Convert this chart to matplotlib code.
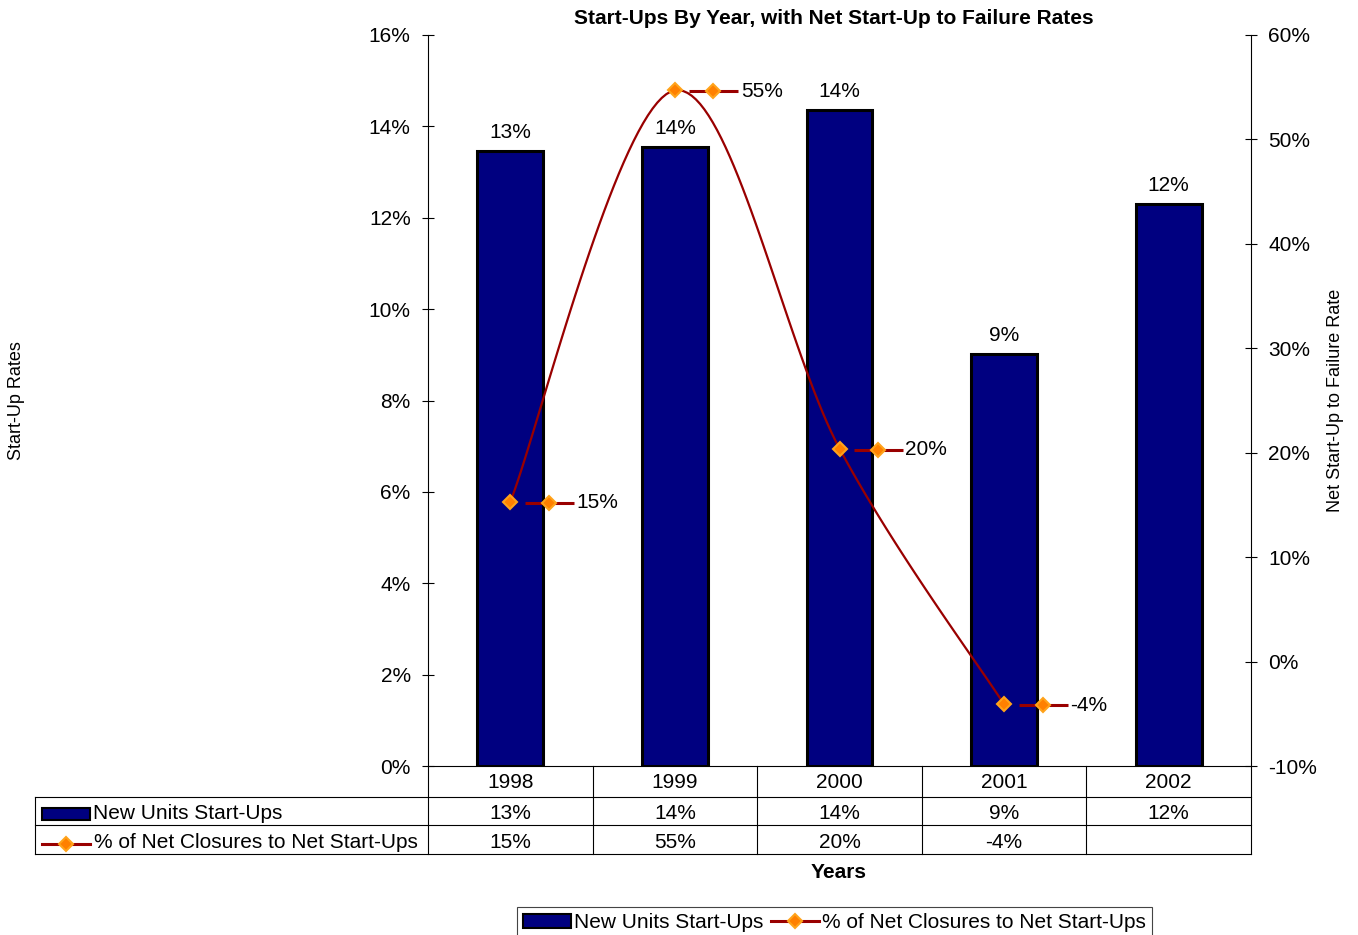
import numpy as np
import matplotlib
matplotlib.use("Agg")
import matplotlib.pyplot as plt
from matplotlib import transforms
from matplotlib.lines import Line2D
from matplotlib.patches import Rectangle, Patch

# ---- data -------------------------------------------------------------
years = ["1998", "1999", "2000", "2001", "2002"]
startup_rates = [13.46, 13.55, 14.36, 9.02, 12.30]        # new units start-up rate, %
net_ratio = [15.3, 54.7, 20.4, -4.1, np.nan]              # net closures to net start-ups, %
left_ticks = [0, 2, 4, 6, 8, 10, 12, 14, 16]
right_ticks = [-10, 0, 10, 20, 30, 40, 50, 60]

bar_name = "New Units Start-Ups"
line_name = "% of Net Closures to Net Start-Ups"
title = "Start-Ups By Year, with Net Start-Up to Failure Rates"

# ---- style ------------------------------------------------------------
NAVY = "#000080"
DARKRED = "#990000"
MFACE = "#FF8000"
MEDGE = "#FFA31A"
MS = 7.2
W, H = 1358, 935
plt.rcParams["font.family"] = ["Liberation Sans", "DejaVu Sans"]
plt.rcParams["font.size"] = 15


def fx(px):
    return px / W


def fy(py):
    return 1 - py / H


def pct(v):
    return "" if np.isnan(v) else f"{v:.0f}%"


def smooth(xs, ys, n=40):
    """Cubic Bezier smoothing through the points (Catmull-Rom tangents)."""
    pts = np.column_stack([xs, ys]).astype(float)
    pad = np.vstack([pts[0], pts, pts[-1]])
    t = np.linspace(0, 1, n)[:, None]
    out = []
    for i in range(len(pts) - 1):
        p0, p1, p2, p3 = pad[i], pad[i + 1], pad[i + 2], pad[i + 3]
        b1 = p1 + (p2 - p0) / 6
        b2 = p2 - (p3 - p1) / 6
        seg = ((1 - t) ** 3) * p1 + 3 * ((1 - t) ** 2) * t * b1 \
            + 3 * (1 - t) * t ** 2 * b2 + t ** 3 * p2
        out.append(seg if i == 0 else seg[1:])
    return np.vstack(out)


fig = plt.figure(figsize=(W / 100, H / 100), dpi=100)
ax = fig.add_axes([fx(428), fy(766), fx(1251) - fx(428), fy(35) - fy(766)])
ax2 = ax.twinx()

x = np.arange(len(years))

# ---- bars (left axis) -------------------------------------------------
bars = ax.bar(x, startup_rates, width=0.4, color=NAVY, edgecolor="black",
              linewidth=2.2, zorder=2)
ax.bar_label(bars, labels=[pct(v) for v in startup_rates], padding=6.5, fontsize=15)
ax.set_xlim(-0.5, len(years) - 0.5)
ax.set_ylim(left_ticks[0], left_ticks[-1])
ax.set_yticks(left_ticks)
ax.set_yticklabels([f"{t}%" for t in left_ticks])
ax.set_xticks([])

# ---- smoothed line (right axis) ---------------------------------------
valid = ~np.isnan(np.array(net_ratio))
xv = x[valid]
yv = np.array(net_ratio)[valid]
curve = smooth(xv, yv)
ax2.plot(curve[:, 0], curve[:, 1], color=DARKRED, lw=1.6, zorder=3)
ax2.plot(xv, yv, ls="none", marker="D", ms=MS, mfc=MFACE, mec=MEDGE, mew=1.5, zorder=4)
ax2.set_ylim(right_ticks[0], right_ticks[-1])
ax2.set_yticks(right_ticks)
ax2.set_yticklabels([f"{t}%" for t in right_ticks])

# data labels with legend key
key_tr = transforms.offset_copy(ax2.transData, fig=fig, x=38.5, y=-1, units="dots")
for xi, yi in zip(xv, yv):
    ax2.plot([xi], [yi], marker="_", ms=49 * 0.72, mew=2.2, color=DARKRED,
             transform=key_tr, zorder=4, clip_on=False)
    ax2.plot([xi], [yi], marker="D", ms=MS, mfc=MFACE, mec=MEDGE, mew=1.5,
             transform=key_tr, zorder=5, clip_on=False)
    ax2.annotate(pct(yi), (xi, yi), xytext=(66 * 0.72, -1 * 0.72),
                 textcoords="offset points", ha="left", va="center", fontsize=15)

# ---- axes styling -----------------------------------------------------
for a in (ax, ax2):
    a.spines["top"].set_visible(False)
    for s in a.spines.values():
        s.set_linewidth(0.8)
ax.spines["right"].set_visible(False)
ax2.spines["left"].set_visible(False)
ax2.spines["bottom"].set_visible(False)
ax.tick_params(axis="y", direction="inout", length=9, width=0.8, pad=8, labelsize=15)
ax2.tick_params(axis="y", direction="inout", length=9, width=0.8, pad=8, labelsize=15)

ax.set_ylabel("Start-Up Rates", fontsize=13)
ax.yaxis.set_label_coords((17 - 428) / 823, 0.5)
ax.yaxis.label.set_va("center")
ax2.set_ylabel("Net Start-Up to Failure Rate", fontsize=13, rotation=90)
ax2.yaxis.set_label_coords((1336 - 428) / 823, 0.5)
ax2.yaxis.label.set_va("center")

fig.text(fx(834), fy(18.5), title, ha="center", va="center", fontsize=15, fontweight="bold")
fig.text(fx(839), fy(872), "Years", ha="center", va="center", fontsize=15, fontweight="bold")

# ---- data table beneath the plot --------------------------------------
bt = transforms.blended_transform_factory(ax.transData, fig.transFigure)
lw_t = 0.8
for b in np.arange(len(years) + 1) - 0.5:
    fig.add_artist(Line2D([b, b], [fy(766), fy(854)], transform=bt, color="black", lw=lw_t))
x_right = ax.get_position().x1
for yy in (797, 825, 854):
    fig.add_artist(Line2D([fx(35), x_right], [fy(yy)] * 2, transform=fig.transFigure,
                          color="black", lw=lw_t))
fig.add_artist(Line2D([fx(35)] * 2, [fy(797), fy(854)], transform=fig.transFigure,
                      color="black", lw=lw_t))

for i, yr in enumerate(years):
    fig.text(i, fy(782.5), yr, transform=bt, ha="center", va="center", fontsize=15)
    fig.text(i, fy(813.5), pct(startup_rates[i]), transform=bt, ha="center", va="center", fontsize=15)
    fig.text(i, fy(842.5), pct(net_ratio[i]), transform=bt, ha="center", va="center", fontsize=15)

# row headers with series keys
fig.add_artist(Rectangle((fx(42), fy(820)), fx(90) - fx(42), fy(808) - fy(820),
                         transform=fig.transFigure, facecolor=NAVY, edgecolor="black", lw=1.5))
fig.text(fx(93), fy(813.5), bar_name, ha="left", va="center", fontsize=15)
fig.add_artist(Line2D([fx(42), fx(90)], [fy(844)] * 2, transform=fig.transFigure,
                      color=DARKRED, lw=2.2))
fig.add_artist(Line2D([fx(66)], [fy(844)], transform=fig.transFigure, marker="D", ms=MS,
                      mfc=MFACE, mec=MEDGE, mew=1.5))
fig.text(fx(94), fy(842.5), line_name, ha="left", va="center", fontsize=15)

# ---- legend -------------------------------------------------------------
handles = [
    Patch(facecolor=NAVY, edgecolor="black", lw=1.5),
    Line2D([], [], color=DARKRED, lw=2.2, marker="D", ms=MS, mfc=MFACE, mec=MEDGE, mew=1.5),
]
leg = fig.legend(handles, [bar_name, line_name], ncol=2, loc="upper left",
                 bbox_to_anchor=(fx(517), fy(907)), borderaxespad=0, frameon=True,
                 fancybox=False, edgecolor="#444444", framealpha=1, borderpad=0.3,
                 handlelength=2.3, handletextpad=0.15, columnspacing=0.35,
                 fontsize=15, numpoints=1)
leg.get_frame().set_linewidth(0.8)

fig.savefig("out.png", dpi=100)
